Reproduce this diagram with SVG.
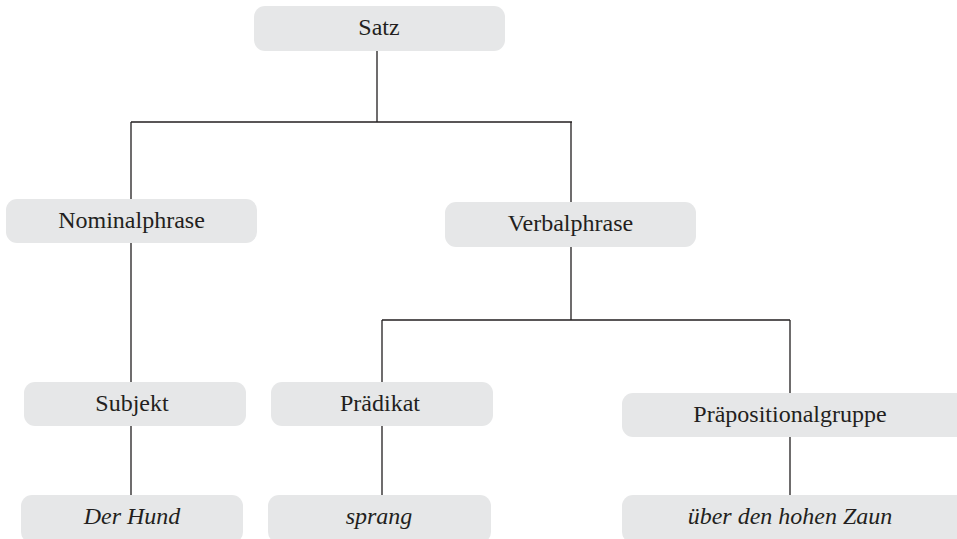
<svg xmlns="http://www.w3.org/2000/svg" width="957" height="539" viewBox="0 0 957 539">
<style>
.box{fill:#e6e7e8;}
.t{font-family:"Liberation Serif","Times New Roman",serif;font-size:24px;fill:#231f20;text-anchor:middle;}
.i{font-style:italic;}
.c{stroke:#231f20;stroke-width:1.3;fill:none;}
</style>
<rect width="957" height="539" fill="#ffffff"/>
<g id="connectors">
<path class="c" d="M377 51V122M131 122H572M131 122V199M571 122V202"/>
<path class="c" d="M131 243V382M131 426V495"/>
<path class="c" d="M571 247V320M382 320H790M382 320V382M790 320V393"/>
<path class="c" d="M382 426V495M790 437V495"/>
</g>
<g id="satz"><rect class="box" x="254" y="6" width="251" height="45" rx="11"/><text class="t" x="379" y="35">Satz</text></g>
<g id="nominalphrase"><rect class="box" x="6" y="199" width="251" height="44" rx="11"/><text class="t" x="131.5" y="228">Nominalphrase</text></g>
<g id="verbalphrase"><rect class="box" x="445" y="202" width="251" height="45" rx="11"/><text class="t" x="570.5" y="231">Verbalphrase</text></g>
<g id="subjekt"><rect class="box" x="24" y="382" width="222" height="44" rx="11"/><text class="t" x="132" y="411">Subjekt</text></g>
<g id="praedikat"><rect class="box" x="271" y="382" width="222" height="44" rx="11"/><text class="t" x="380" y="411">Prädikat</text></g>
<g id="praepositionalgruppe"><rect class="box" x="622" y="393" width="345" height="44" rx="11"/><text class="t" x="790" y="422">Präpositionalgruppe</text></g>
<g id="der-hund"><rect class="box" x="21" y="495" width="222" height="48" rx="11"/><text class="t i" x="132" y="524">Der Hund</text></g>
<g id="sprang"><rect class="box" x="268" y="495" width="223" height="48" rx="11"/><text class="t i" x="379" y="524">sprang</text></g>
<g id="ueber"><rect class="box" x="622" y="495" width="345" height="48" rx="11"/><text class="t i" x="790" y="524">über den hohen Zaun</text></g>
</svg>
